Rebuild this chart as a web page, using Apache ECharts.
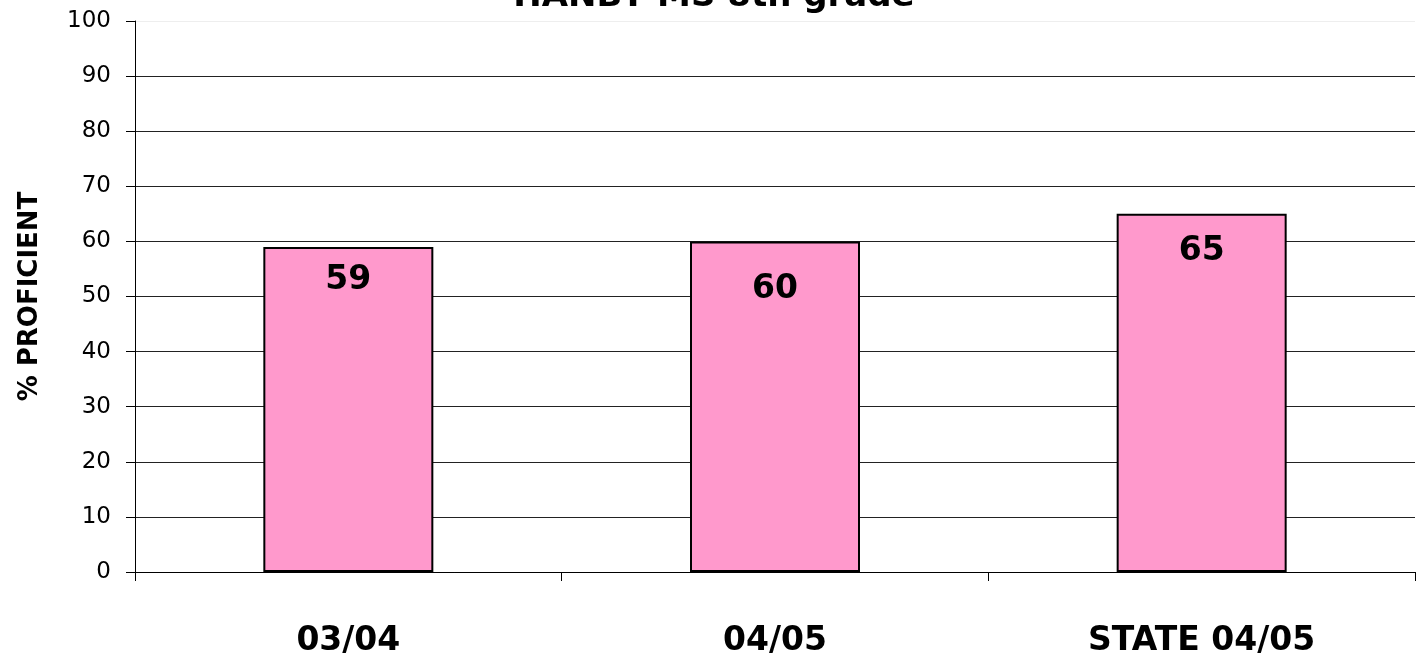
<!DOCTYPE html>
<html><head><meta charset="utf-8">
<script src="https://cdn.jsdelivr.net/npm/echarts@6/dist/echarts.min.js"></script>
<style>html,body{margin:0;padding:0;background:#fff}#c{width:1428px;height:662px}</style>
</head><body><div id="c"></div>
<script>
const categories = ['03/04', '04/05', 'STATE 04/05'];
const values = [59, 60, 65];
const yTicks = [0, 10, 20, 30, 40, 50, 60, 70, 80, 90, 100];
const titleText = 'HANBY MS 8th grade';
const yName = '% PROFICIENT';

const labelDist = [17, 32, 21];
const font = '"DejaVu Sans", sans-serif';
const gridColors = yTicks.map((t, i) => i === yTicks.length - 1 ? '#eeeeee' : '#222222');
const chart = echarts.init(document.getElementById('c'));
chart.setOption({
  animation: false,
  title: {text: titleText, left: 'center', top: -25,
    textStyle: {fontFamily: font, fontWeight: 'bold', fontSize: 34, color: '#000'}},
  grid: {left: 135, right: 13, top: 21, bottom: 90, containLabel: false},
  xAxis: {type: 'category', data: categories,
    axisLine: {lineStyle: {color: '#000', width: 1}},
    axisTick: {show: true, length: 9, lineStyle: {color: '#000'}},
    axisLabel: {margin: 53, fontFamily: font, fontWeight: 'bold', fontSize: 33, color: '#000'}},
  yAxis: {type: 'value', min: yTicks[0], max: yTicks[yTicks.length-1], interval: 10,
    name: yName, nameLocation: 'middle', nameGap: 92, nameRotate: 90,
    nameTextStyle: {fontFamily: font, fontWeight: 'bold', fontSize: 26, color: '#000'},
    axisLine: {show: true, lineStyle: {color: '#000'}},
    axisTick: {show: true, length: 9, lineStyle: {color: '#000'}},
    axisLabel: {margin: 24, fontFamily: font, fontSize: 23, color: '#000'},
    splitLine: {show: true, lineStyle: {color: gridColors, width: 1}}},
  series: [{type: 'bar', barWidth: 170,
    data: values.map((v, i) => ({value: v, label: {distance: labelDist[i]}})),
    itemStyle: {color: '#FF99CC', borderColor: '#000', borderWidth: 2},
    label: {show: true, position: 'insideTop', fontFamily: font, fontWeight: 'bold', fontSize: 33, color: '#000'}}]
});
</script></body></html>
